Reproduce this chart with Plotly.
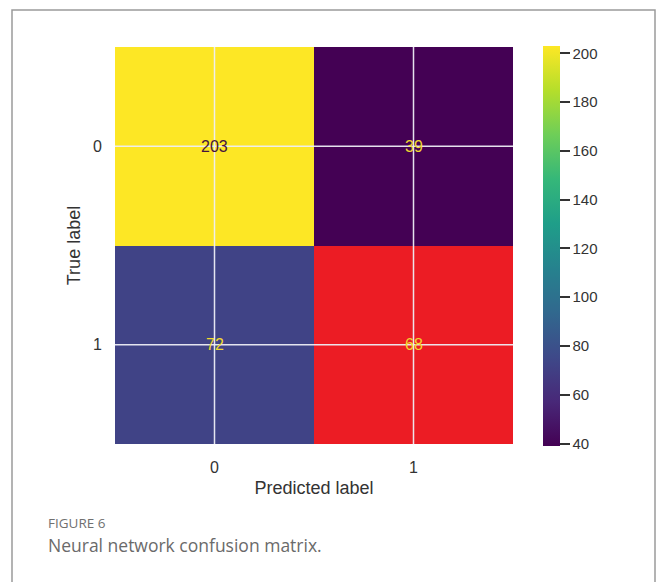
import plotly.graph_objects as go

# ---- data ----
class_labels = ["0", "1"]
true_labels = [0, 1]
pred_labels = [0, 1]
counts = [[203, 39],
          [72, 68]]
highlight_row = [None, 68]          # cell rendered in red in the reference
colorbar_ticks = [40, 60, 80, 100, 120, 140, 160, 180, 200]
caption_label = "FIGURE 6"
caption_text = "Neural network confusion matrix."

W, H = 658, 582
L, R, T, B = 115, 145, 47, 138
pw, ph = W - L - R, H - T - B

def px_x(x):
    return (x - L) / pw

def px_y(y):
    return 1 - (y - T) / ph

zmin = min(min(r) for r in counts)
zmax = max(max(r) for r in counts)
FONT = "Liberation Sans, Arial"

fig = go.Figure()
fig.add_trace(go.Heatmap(
    z=counts, x=pred_labels, y=true_labels,
    colorscale="Viridis", zmin=zmin, zmax=zmax,
    colorbar=dict(
        x=px_x(543), xanchor="left", xpad=0, y=px_y(446), yanchor="bottom", ypad=0,
        len=400 / ph, lenmode="fraction", thickness=17, outlinewidth=0,
        tickvals=colorbar_ticks, ticks="outside", ticklen=10,
        tickwidth=2, tickcolor="#333333",
        tickfont=dict(family=FONT, size=15, color="#333333"),
    ),
    hoverinfo="skip",
))
fig.add_trace(go.Heatmap(
    z=[[None, None], highlight_row], x=pred_labels, y=true_labels,
    colorscale=[[0, "#ec1c24"], [1, "#ec1c24"]], showscale=False,
    hoverinfo="skip",
))

# grid lines at the tick centres (drawn above the cells, as in the reference)
for v in pred_labels:
    fig.add_shape(type="line", xref="x", yref="paper", x0=v, x1=v, y0=0, y1=1,
                  line=dict(color="rgba(238,238,246,0.95)", width=1.5), layer="above")
for v in true_labels:
    fig.add_shape(type="line", xref="paper", yref="y", x0=0, x1=1, y0=v, y1=v,
                  line=dict(color="rgba(238,238,246,0.95)", width=1.5), layer="above")

thr = (zmin + zmax) / 2
for i, row in enumerate(counts):
    for j, v in enumerate(row):
        fig.add_annotation(
            x=pred_labels[j], y=true_labels[i], text=str(v), showarrow=False,
            font=dict(family=FONT, size=16,
                      color="#44143f" if v > thr else "#f0d830"),
        )

axis_font = dict(family=FONT, size=16, color="#333333")
title_font = dict(family=FONT, size=18, color="#333333")
fig.update_xaxes(
    tickvals=pred_labels, ticktext=class_labels, range=[-0.5, 1.5],
    showgrid=False, zeroline=False, showline=False,
    ticks="outside", ticklen=9, tickcolor="rgba(0,0,0,0)", tickfont=axis_font,
    title=dict(text="Predicted label", font=title_font, standoff=6),
)
fig.update_yaxes(
    tickvals=true_labels, ticktext=class_labels, range=[1.5, -0.5],
    showgrid=False, zeroline=False, showline=False,
    ticks="outside", ticklen=9, tickcolor="rgba(0,0,0,0)", tickfont=axis_font,
    title=dict(text="True label", font=title_font, standoff=7),
)

# outer frame
fig.add_shape(type="rect", xref="paper", yref="paper",
              x0=px_x(12), x1=px_x(655), y0=px_y(600), y1=px_y(10),
              line=dict(color="#9a9a9a", width=1.5), fillcolor="rgba(0,0,0,0)", layer="below")

fig.add_annotation(xref="paper", yref="paper", x=px_x(46), y=px_y(523),
                   xanchor="left", yanchor="middle", showarrow=False, text=caption_label,
                   font=dict(family="Open Sans", size=13.5, color="#707070"))
fig.add_annotation(xref="paper", yref="paper", x=px_x(46), y=px_y(545),
                   xanchor="left", yanchor="middle", showarrow=False, text=caption_text,
                   font=dict(family="Open Sans", size=17.5, color="#6a6a6a"))

fig.update_layout(
    width=W, height=H, margin=dict(l=L, r=R, t=T, b=B, autoexpand=False),
    paper_bgcolor="white", plot_bgcolor="white", showlegend=False,
)
fig.write_html("out.html", config={"displayModeBar": False},
               post_script="document.body.style.margin='0';")
